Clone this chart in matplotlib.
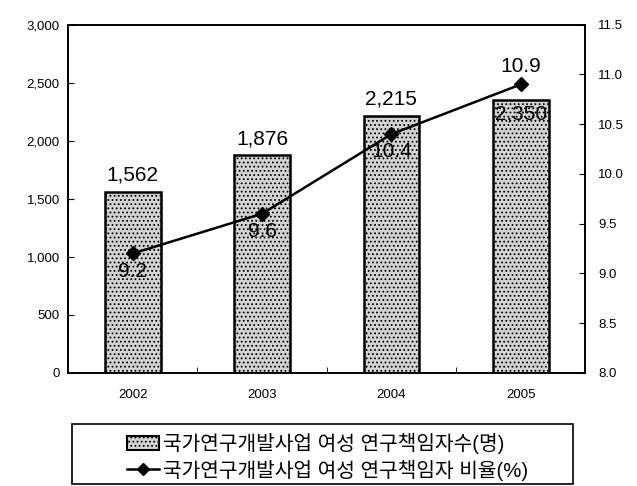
import matplotlib
matplotlib.use("Agg")
import matplotlib.pyplot as plt
from matplotlib.lines import Line2D
from matplotlib.patches import Patch, Rectangle
import numpy as np

plt.rcParams["font.family"] = ["Liberation Sans", "Noto Sans CJK KR", "DejaVu Sans"]
plt.rcParams["hatch.color"] = "#8a8a8a"
plt.rcParams["hatch.linewidth"] = 0.8

# data
years = ["2002", "2003", "2004", "2005"]
researchers = [1562, 1876, 2215, 2350]
ratio = [9.2, 9.6, 10.4, 10.9]
bar_labels = ["1,562", "1,876", "2,215", "2,350"]
ratio_labels = ["9.2", "9.6", "10.4", "10.9"]
bar_name = "국가연구개발사업 여성 연구책임자수(명)"
line_name = "국가연구개발사업 여성 연구책임자 비율(%)"

fig = plt.figure(figsize=(6.37, 4.86), dpi=100)
ax = fig.add_axes([0.107, 0.233, 0.812, 0.716])
ax2 = ax.twinx()

x = np.arange(len(years))
ax.bar(x, researchers, width=0.43, color="#d4d4d4", edgecolor="black",
       linewidth=1.8, hatch="....", zorder=2)
ax.set_xlim(-0.5, 3.5)
ax.set_ylim(0, 3000)
ax.set_yticks(np.arange(0, 3001, 500))
ax.set_yticklabels([f"{v:,}" for v in range(0, 3001, 500)])
ax.set_xticks(x)
ax.set_xticklabels(years)
ax.set_xticks(np.arange(0.5, 3.5, 1), minor=True)
ax.tick_params(axis="x", which="major", length=0, pad=12, labelsize=9.5)
ax.tick_params(axis="x", which="minor", direction="in", length=4)
ax.tick_params(axis="y", direction="in", length=4, pad=6, labelsize=9.5)

for i, v in enumerate(researchers):
    if i == 3:
        ax.annotate(bar_labels[i], (x[i], v), xytext=(0, -3), textcoords="offset points",
                    ha="center", va="top", fontsize=15, zorder=5)
    else:
        ax.annotate(bar_labels[i], (x[i], v), xytext=(0, 5), textcoords="offset points",
                    ha="center", va="bottom", fontsize=15, zorder=5)

ax2.plot(x, ratio, color="black", linewidth=1.8, marker="D", markersize=7.5,
         markerfacecolor="black", zorder=4)
ax2.set_ylim(8.0, 11.5)
ax2.set_yticks(np.arange(8.0, 11.51, 0.5))
ax2.set_yticklabels([f"{v:.1f}" for v in np.arange(8.0, 11.51, 0.5)])
ax2.tick_params(axis="y", direction="in", length=4, pad=9, labelsize=9.5)

for i, v in enumerate(ratio):
    if i == 3:
        ax2.annotate(ratio_labels[i], (x[i], v), xytext=(0, 6), textcoords="offset points",
                     ha="center", va="bottom", fontsize=15)
    else:
        ax2.annotate(ratio_labels[i], (x[i], v), xytext=(0, -6), textcoords="offset points",
                     ha="center", va="top", fontsize=15)

for a in (ax, ax2):
    for s in a.spines.values():
        s.set_linewidth(1.2)

# legend box drawn separately, legend entries sit inside it
fig.patches.append(Rectangle((72 / 637, 0.004), 501 / 637, 0.124,
                             transform=fig.transFigure, fill=False,
                             edgecolor="black", linewidth=1.2))
handles = [
    Patch(facecolor="#d4d4d4", edgecolor="black", hatch="....", linewidth=1.5),
    Line2D([0], [0], color="black", linewidth=1.8, marker="D", markersize=6),
]
leg = fig.legend(handles, [bar_name, line_name], loc="upper left",
                 bbox_to_anchor=(125 / 637, 1 - 431 / 486),
                 fontsize=14.6, frameon=False, borderaxespad=0,
                 handlelength=1.6, handletextpad=0.15, labelspacing=0.25,
                 borderpad=0.1)

fig.savefig("out.png", dpi=100)
